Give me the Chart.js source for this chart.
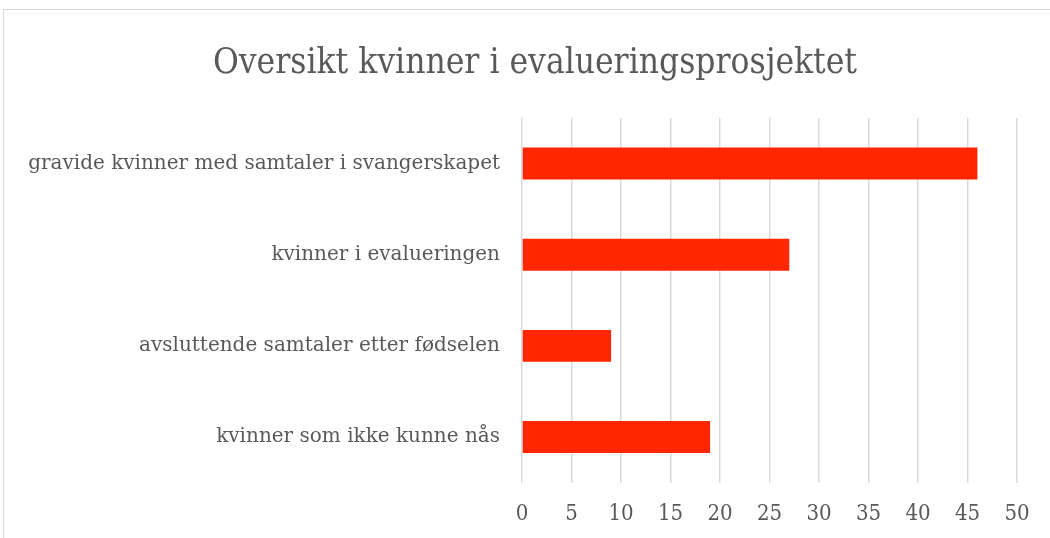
<!DOCTYPE html>
<html>
<head>
<meta charset="utf-8">
<script src="https://cdn.jsdelivr.net/npm/chart.js@4/dist/chart.umd.min.js"></script>
<style>
    html, body { margin: 0; padding: 0; background: #fff; }
    .wrap { position: relative; width: 1050px; height: 538px; }
    .frame {
        position: absolute; left: 3px; top: 9px; right: -2px; bottom: -2px;
        border-top: 1px solid #d9d9d9; border-left: 1px solid #d9d9d9;
    }
    canvas { position: absolute; left: 0; top: 0; }
</style>
</head>
<body>
<div class="wrap">
    <div class="frame"></div>
    <canvas id="chart" width="1050" height="538"></canvas>
</div>
<script>
// Kategorier og verdier
const categories = [
    "gravide kvinner med samtaler i svangerskapet",
    "kvinner i evalueringen",
    "avsluttende samtaler etter fødselen",
    "kvinner som ikke kunne nås"
];
const antall = [46, 27, 9, 19];
const xTicks = [0, 5, 10, 15, 20, 25, 30, 35, 40, 45, 50];

const FONT = "'DejaVu Serif', serif";
const FONT_TITLE = "'DejaVu Serif Condensed', 'DejaVu Serif', serif";
const TEXT = "#595959";

// Tittelen står midt i hele rammen, ikke midt mellom paddingene
const shiftTitle = {
    id: "shiftTitle",
    afterLayout(chart) {
        if (chart.titleBlock) chart.titleBlock.left += 37;
    }
};

const ctx = document.getElementById("chart").getContext("2d");
new Chart(ctx, {
    type: "bar",
    data: {
        labels: categories,
        datasets: [{
            label: "Antall",
            data: antall,
            backgroundColor: "#ff2600",
            categoryPercentage: 1,
            barPercentage: 0.35
        }]
    },
    options: {
        indexAxis: "y",
        responsive: false,
        animation: false,
        layout: { padding: { left: 16, right: 33, top: 43, bottom: -7 } },
        plugins: {
            legend: { display: false },
            tooltip: { enabled: false },
            title: {
                display: true,
                text: "Oversikt kvinner i evalueringsprosjektet",
                color: TEXT,
                font: { family: FONT_TITLE, size: 35, weight: "normal" },
                padding: { top: 0, bottom: 33 }
            }
        },
        scales: {
            x: {
                min: 0,
                max: 50,
                afterBuildTicks: (scale) => { scale.ticks = xTicks.map((v) => ({ value: v })); },
                ticks: { color: TEXT, font: { family: FONT_TITLE, size: 22 }, padding: 18 },
                grid: { color: "#d9d9d9", lineWidth: 1.5, drawTicks: false },
                border: { display: false }
            },
            y: {
                afterFit: (scale) => { scale.width = 506; },
                ticks: { color: TEXT, font: { family: FONT, size: 20 }, padding: 22 },
                grid: { display: false, drawTicks: false },
                border: { display: false }
            }
        }
    },
    plugins: [shiftTitle]
});
</script>
</body>
</html>
